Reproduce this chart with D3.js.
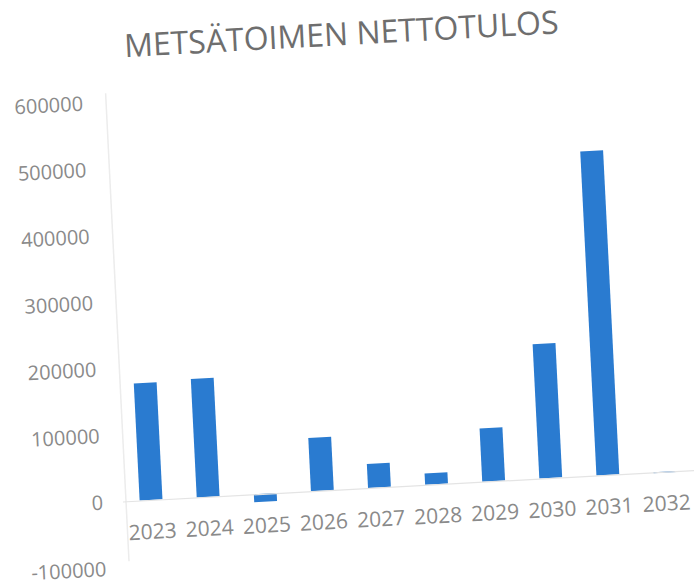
<!DOCTYPE html>
<html>
<head>
<meta charset="utf-8">
<script src="https://cdn.jsdelivr.net/npm/d3@7"></script>
<style>
  body { margin: 0; background: #fff; }
  svg { display: block; }
  text { font-family: 'Open Sans', sans-serif; }
</style>
</head>
<body>
<svg id="chart" width="694" height="587"></svg>
<script>
const years = ['2023', '2024', '2025', '2026', '2027', '2028', '2029', '2030', '2031', '2032'];
const netIncome = [176000, 178000, -12000, 80000, 36000, 17000, 80000, 202000, 487000, -1500];
const yTicks = [-100000, 0, 100000, 200000, 300000, 400000, 500000, 600000];
const title = 'METSÄTOIMEN NETTOTULOS';

const svg = d3.select('#chart');
svg.append('rect').attr('width', 694).attr('height', 587).attr('fill', '#fff');

// the reference is a photo of a printed page, so the whole chart is slanted a bit
const skewX = 0.05;
const skewY = -0.055;
const g = svg
  .append('g')
  .attr('transform', `matrix(1, ${skewY}, ${skewX}, 1, ${-skewX * 500}, ${-skewY * 150})`);

const xScale = d3
  .scaleBand()
  .domain(years)
  .range([122.5, 693.5])
  .paddingInner(0.6)
  .paddingOuter(0.3);

const yScale = d3
  .scaleLinear()
  .domain([-100000, 600000])
  .range([566.5, 101]);

// faint edge on the left of the plot
g.append('line')
  .attr('x1', 126).attr('x2', 126)
  .attr('y1', 92).attr('y2', 560)
  .attr('stroke', '#ececec')
  .attr('stroke-width', 1.5);

const yAxis = g
  .append('g')
  .attr('transform', 'translate(103,0)')
  .call(d3.axisLeft(yScale).tickValues(yTicks).tickSize(0).tickPadding(0).tickFormat((d) => String(d)));
yAxis.select('.domain').remove();
yAxis.selectAll('text')
  .attr('fill', '#8a8a8a')
  .style('font-size', '20px');

g.selectAll('rect.bar')
  .data(netIncome)
  .enter()
  .append('rect')
  .attr('class', 'bar')
  .attr('x', (d, i) => xScale(years[i]))
  .attr('y', (d) => yScale(Math.max(0, d)))
  .attr('width', xScale.bandwidth())
  .attr('height', (d) => Math.abs(yScale(d) - yScale(0)))
  .attr('fill', '#2a7bd0');

// category axis along zero
const xAxis = g
  .append('g')
  .attr('transform', `translate(0,${yScale(0)})`)
  .call(d3.axisBottom(xScale).tickSize(0).tickPadding(24));
xAxis.select('.domain')
  .attr('stroke', '#e4e4e4')
  .attr('stroke-width', 1.2);
xAxis.selectAll('text')
  .attr('fill', '#8a8a8a')
  .style('font-size', '21px');

g.append('text')
  .attr('x', 364)
  .attr('y', 57)
  .attr('text-anchor', 'middle')
  .attr('fill', '#6e6e6e')
  .style('font-size', '32px')
  .text(title);
</script>
</body>
</html>
